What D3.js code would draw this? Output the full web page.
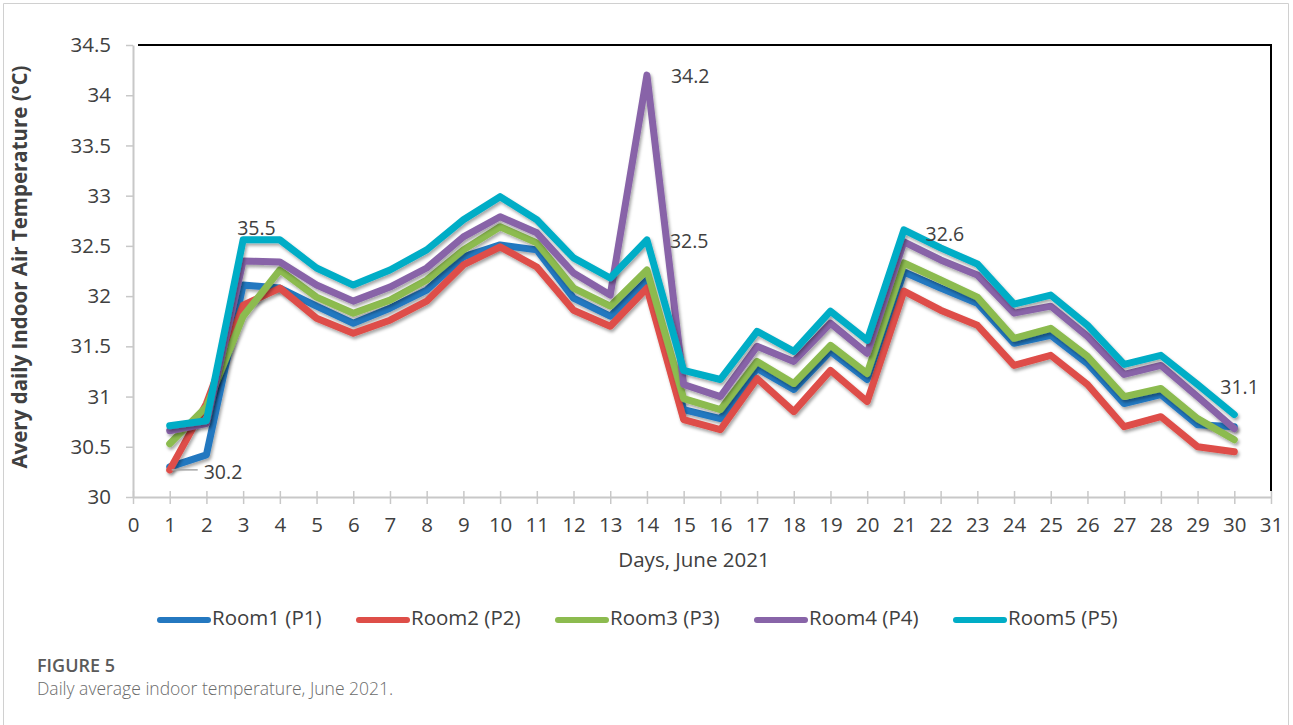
<!DOCTYPE html>
<html>
<head>
    <title>Daily average indoor temperature, June 2021</title>
    <script src="https://d3js.org/d3.v7.min.js"></script>
    <style>
        body { margin: 0; background: #fff; }
        text { font-family: "Open Sans", "Noto Sans", sans-serif; }
    </style>
</head>
<body>
<div id="my_dataviz"></div>

<script>
    // data
    var days = [1, 2, 3, 4, 5, 6, 7, 8, 9, 10, 11, 12, 13, 14, 15, 16, 17, 18, 19, 20, 21, 22, 23, 24, 25, 26, 27, 28, 29, 30];
    var xTicks = [0, 1, 2, 3, 4, 5, 6, 7, 8, 9, 10, 11, 12, 13, 14, 15, 16, 17, 18, 19, 20, 21, 22, 23, 24, 25, 26, 27, 28, 29, 30, 31];
    var yTicks = [30, 30.5, 31, 31.5, 32, 32.5, 33, 33.5, 34, 34.5];
    var seriesNames = ["Room1 (P1)", "Room2 (P2)", "Room3 (P3)", "Room4 (P4)", "Room5 (P5)"];
    var room1 = [30.30, 30.42, 32.11, 32.08, 31.90, 31.73, 31.88, 32.06, 32.39, 32.51, 32.46, 31.98, 31.80, 32.16, 30.87, 30.78, 31.28, 31.07, 31.45, 31.17, 32.24, 32.08, 31.93, 31.53, 31.61, 31.33, 30.93, 31.02, 30.72, 30.70];
    var room2 = [30.27, 30.93, 31.91, 32.08, 31.78, 31.63, 31.76, 31.95, 32.31, 32.49, 32.29, 31.86, 31.70, 32.08, 30.77, 30.67, 31.18, 30.85, 31.26, 30.95, 32.05, 31.86, 31.71, 31.31, 31.41, 31.12, 30.70, 30.80, 30.50, 30.45];
    var room3 = [30.53, 30.90, 31.80, 32.26, 31.99, 31.83, 31.96, 32.16, 32.46, 32.69, 32.53, 32.08, 31.90, 32.26, 30.98, 30.87, 31.35, 31.13, 31.51, 31.23, 32.33, 32.16, 31.99, 31.58, 31.68, 31.40, 31.00, 31.08, 30.78, 30.57];
    var room4 = [30.66, 30.73, 32.35, 32.34, 32.11, 31.95, 32.09, 32.28, 32.59, 32.79, 32.63, 32.23, 32.01, 34.20, 31.12, 31.00, 31.50, 31.35, 31.73, 31.43, 32.54, 32.36, 32.21, 31.83, 31.90, 31.60, 31.22, 31.31, 31.00, 30.68];
    var room5 = [30.71, 30.76, 32.56, 32.56, 32.28, 32.11, 32.26, 32.46, 32.76, 32.99, 32.76, 32.38, 32.18, 32.56, 31.26, 31.17, 31.65, 31.45, 31.85, 31.56, 32.66, 32.48, 32.32, 31.92, 32.01, 31.71, 31.32, 31.41, 31.12, 30.82];
    var colors = ["#2478c0", "#de4e48", "#8cbb4f", "#8864a8", "#00adc6"];

    // data labels as printed in the figure (series index, day, text)
    var labelSeries = [4, 0, 3, 4, 4, 4];
    var labelDays = [3, 1, 14, 14, 22, 30];
    var labelTexts = ["35.5", "30.2", "34.2", "32.5", "32.6", "31.1"];

    var allSeries = [room1, room2, room3, room4, room5];

    var W = 1293, H = 725;
    var margin = {top: 45, right: 22, bottom: 228, left: 133},
        width = W - margin.left - margin.right,
        height = H - margin.top - margin.bottom;

    var svg = d3.select("#my_dataviz")
        .append("svg")
        .attr("width", W)
        .attr("height", H);

    // outer frame of the figure
    svg.append("path")
        .attr("d", "M3.5," + H + "V3.5H1288.5V" + H)
        .attr("fill", "none")
        .attr("stroke", "#d0d0d0")
        .attr("stroke-width", 1);

    var defs = svg.append("defs");
    var shadow = defs.append("filter")
        .attr("id", "shadow")
        .attr("x", "-5%").attr("y", "-5%")
        .attr("width", "110%").attr("height", "120%");
    shadow.append("feDropShadow")
        .attr("dx", 1.5).attr("dy", 2.5)
        .attr("stdDeviation", 1.5)
        .attr("flood-color", "#000")
        .attr("flood-opacity", 0.35);

    var g = svg.append("g")
        .attr("transform", "translate(" + margin.left + "," + margin.top + ")");

    var x = d3.scaleLinear().domain([0, 31]).range([0, width]);
    var y = d3.scaleLinear().domain([30, 34.5]).range([height, 0]);

    // plot border (top and right are black)
    g.append("path")
        .attr("d", "M5,0H" + width + "V" + (height - 6))
        .attr("fill", "none")
        .attr("stroke", "#000")
        .attr("stroke-width", 2);

    // Y axis
    var yAxis = g.append("g")
        .call(d3.axisLeft(y).tickValues(yTicks).tickSize(7).tickSizeOuter(0).tickPadding(15).tickFormat(d3.format("")));
    yAxis.select(".domain").attr("stroke", "#c8c8c8").attr("stroke-width", 2);
    yAxis.selectAll(".tick line").attr("stroke", "#c8c8c8").attr("stroke-width", 1.5);
    yAxis.selectAll(".tick text").attr("fill", "#404040").style("font-size", "20.5px");

    // X axis
    var xAxis = g.append("g")
        .attr("transform", "translate(0," + height + ")")
        .call(d3.axisBottom(x).tickValues(xTicks).tickSize(7).tickSizeOuter(0).tickPadding(13).tickFormat(d3.format("d")));
    xAxis.select(".domain").attr("stroke", "#c8c8c8").attr("stroke-width", 2);
    xAxis.selectAll(".tick line").attr("stroke", "#c8c8c8").attr("stroke-width", 1.5).attr("y1", -6);
    xAxis.selectAll(".tick text").attr("fill", "#404040").style("font-size", "20.5px");

    // axis titles
    g.append("text")
        .attr("transform", "translate(" + (-106) + "," + (height / 2 - 4) + ") rotate(-90)")
        .attr("text-anchor", "middle")
        .attr("fill", "#404040")
        .style("font-size", "20.5px")
        .style("font-weight", "bold")
        .text("Avery daily Indoor Air Temperature  (\u00B0C)");

    g.append("text")
        .attr("x", x(15.5) - 8)
        .attr("y", height + 70)
        .attr("text-anchor", "middle")
        .attr("fill", "#404040")
        .style("font-size", "20.5px")
        .text("Days, June 2021");

    // lines
    var line = d3.line()
        .x(function(d, i) { return x(days[i]); })
        .y(function(d) { return y(d); });

    allSeries.forEach(function(s, k) {
        g.append("path")
            .datum(s)
            .attr("fill", "none")
            .attr("stroke", colors[k])
            .attr("stroke-width", 7)
            .attr("stroke-linejoin", "round")
            .attr("stroke-linecap", "round")
            .attr("filter", "url(#shadow)")
            .attr("d", line);
    });

    // data labels
    var labelOffsets = [[-6, -10], [34, 7], [24, 3], [23, 3], [-15, -12], [-14, -26]];
    labelTexts.forEach(function(t, i) {
        var d = labelDays[i];
        var v = allSeries[labelSeries[i]][d - 1];
        var px = x(d), py = y(v);
        if (i === 1) {
            g.append("line")
                .attr("x1", px + 2).attr("y1", py + 3)
                .attr("x2", px + 28).attr("y2", py + 3)
                .attr("stroke", "#a6a6a6")
                .attr("stroke-width", 1.5);
        }
        g.append("text")
            .attr("x", px + labelOffsets[i][0])
            .attr("y", py + labelOffsets[i][1])
            .attr("dominant-baseline", "middle")
            .attr("fill", "#404040")
            .style("font-size", "19.5px")
            .text(t);
    });

    // legend
    var legend = svg.append("g")
        .attr("transform", "translate(157,620)");
    seriesNames.forEach(function(name, k) {
        var item = legend.append("g")
            .attr("transform", "translate(" + (k * 199) + ",0)");
        item.append("line")
            .attr("x1", 3).attr("x2", 51)
            .attr("y1", 0).attr("y2", 0)
            .attr("stroke", colors[k])
            .attr("stroke-width", 6)
            .attr("stroke-linecap", "round");
        item.append("text")
            .attr("x", 55)
            .attr("y", 0)
            .attr("dominant-baseline", "middle")
            .attr("fill", "#404040")
            .style("font-size", "20.5px")
            .text(name);
    });

    // caption
    svg.append("text")
        .attr("x", 37).attr("y", 672)
        .attr("fill", "#5a5a5a")
        .style("font-size", "18px")
        .style("font-weight", "600")
        .text("FIGURE 5");
    svg.append("text")
        .attr("x", 37).attr("y", 695)
        .attr("fill", "#6b6b6b")
        .style("font-size", "17.5px")
        .style("font-weight", "300")
        .text("Daily average indoor temperature, June 2021.");
</script>
</body>
</html>
